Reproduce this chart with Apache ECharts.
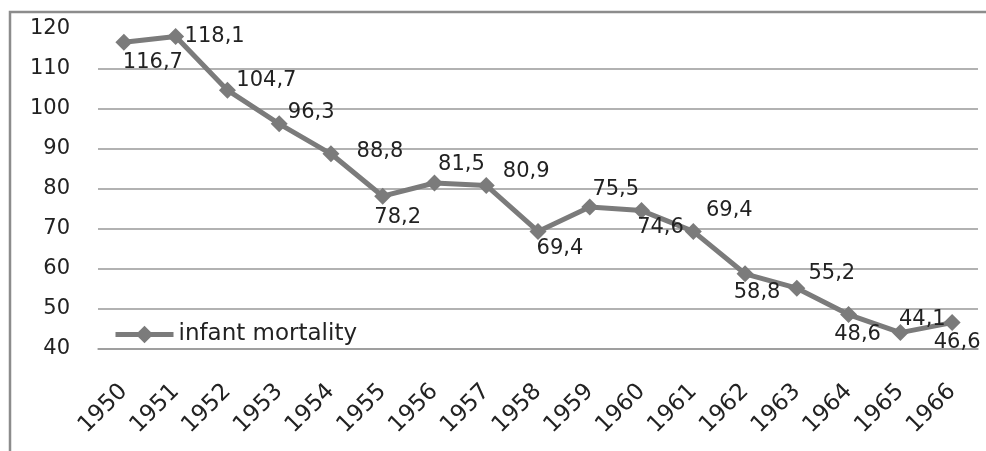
<!DOCTYPE html>
<html>
<head>
<meta charset="utf-8">
<script src="https://cdn.jsdelivr.net/npm/echarts@6/dist/echarts.min.js"></script>
<style>
  html, body { margin: 0; padding: 0; background: #fff; }
  #chartWrapper { width: 986px; height: 451px; }
</style>
</head>
<body>
<div id="chartWrapper"></div>
<script>
// years on the x axis
let years = ['1950', '1951', '1952', '1953', '1954', '1955', '1956', '1957', '1958',
    '1959', '1960', '1961', '1962', '1963', '1964', '1965', '1966'];
// infant mortality values
let mortality = [116.7, 118.1, 104.7, 96.3, 88.8, 78.2, 81.5, 80.9, 69.4,
    75.5, 74.6, 69.4, 58.8, 55.2, 48.6, 44.1, 46.6];
let seriesName = 'infant mortality';

// where each value label sits relative to its point (dx, dy)
let labelShift = [[29, 20], [39, 0], [39, -10], [32, -11], [49, -2], [15, 21], [27, -18],
    [40, -14], [22, 17], [26, -17], [19, 17], [36, -21], [12, 19], [35, -15],
    [9, 20], [22, -13], [5, 20]];

function initChart() {
    let myChart = echarts.init(document.getElementById('chartWrapper'));
    let fontFamily = '"DejaVu Sans", sans-serif';

    let seriesData = mortality.map(function (v, i) {
        return {
            value: v,
            label: { offset: labelShift[i] }
        };
    });

    let option = {
        animation: false,
        graphic: [{
            type: 'rect',
            shape: { x: 10, y: 12, width: 1200, height: 800 },
            style: { fill: 'none', stroke: '#8c8c8c', lineWidth: 2.5 },
            silent: true
        }],
        grid: {
            left: 98,
            right: 8,
            top: 29,
            bottom: 102
        },
        legend: {
            left: 113,
            top: 323,
            padding: 0,
            itemWidth: 58,
            itemHeight: 22,
            itemGap: 6,
            lineStyle: { width: 5 },
            textStyle: { fontFamily: fontFamily, fontSize: 23, color: '#222' },
            data: [seriesName]
        },
        xAxis: {
            type: 'category',
            data: years,
            boundaryGap: true,
            axisLine: { show: true, lineStyle: { color: '#999', width: 1.5 } },
            axisTick: { show: false },
            axisLabel: {
                rotate: 45,
                interval: 0,
                margin: 39,
                fontFamily: fontFamily,
                fontSize: 23,
                color: '#222'
            }
        },
        yAxis: {
            type: 'value',
            min: 40,
            max: 120,
            interval: 10,
            axisLine: { show: false },
            axisTick: { show: false },
            axisLabel: {
                margin: 28,
                fontFamily: fontFamily,
                fontSize: 21,
                color: '#222'
            },
            splitLine: {
                show: true,
                lineStyle: {
                    color: ['#999', '#999', '#999', '#999', '#999', '#999', '#999', '#999', 'rgba(0,0,0,0)'],
                    width: 1.5
                }
            }
        },
        series: [{
            name: seriesName,
            type: 'line',
            data: seriesData,
            symbol: 'diamond',
            symbolSize: 17,
            itemStyle: { color: '#7b7b7b' },
            lineStyle: { color: '#7b7b7b', width: 5 },
            label: {
                show: true,
                position: 'inside',
                align: 'center',
                verticalAlign: 'middle',
                fontFamily: fontFamily,
                fontSize: 21,
                color: '#222',
                formatter: function (p) {
                    return String(p.value).replace('.', ',');
                }
            }
        }]
    };

    myChart.setOption(option);
}

initChart();
</script>
</body>
</html>
